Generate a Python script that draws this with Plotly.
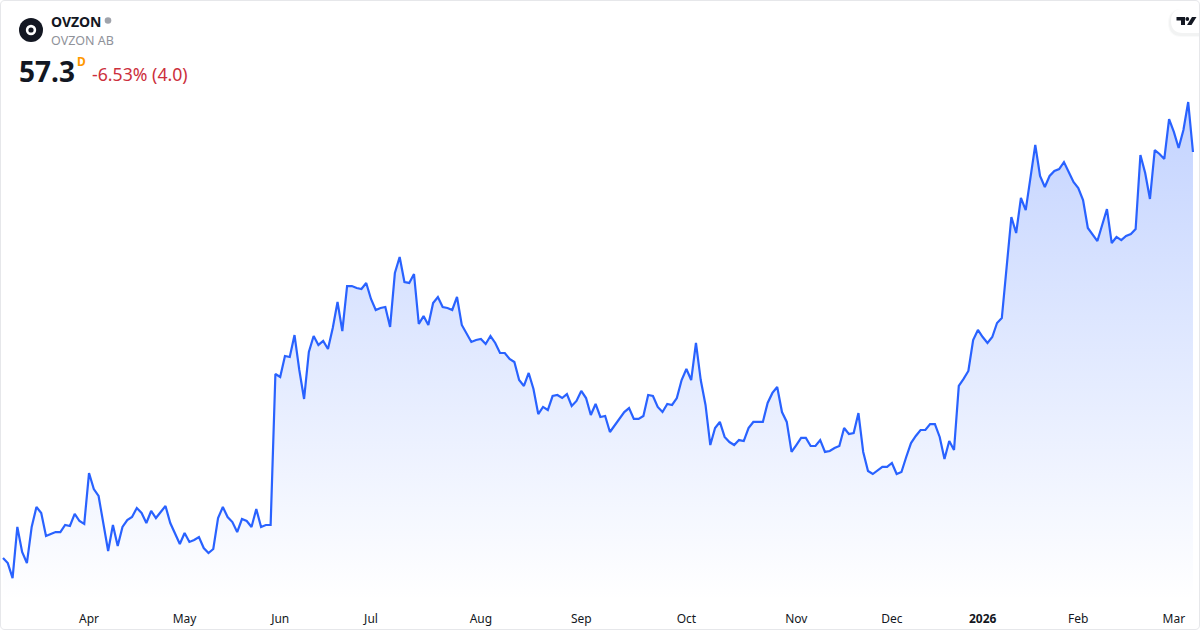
import pandas as pd
import plotly.graph_objects as go

symbol = "OVZON"
company = "OVZON AB"
last_price = "57.3"
interval = "D"
change_text = "-6.53% (4.0)"

market_holidays = ["2025-04-18", "2025-04-21", "2025-05-01", "2025-05-29", "2025-06-06", "2025-06-20",
                   "2025-12-24", "2025-12-25", "2025-12-26", "2025-12-31", "2026-01-01", "2026-01-06"]
dates = [d.strftime("%Y-%m-%d") for d in pd.bdate_range("2025-03-06", "2026-03-06")
         if d.strftime("%Y-%m-%d") not in market_holidays]

close_mar = [24.56, 24.15, 22.94, 27.06, 25.04, 24.15, 27.06, 28.67, 28.19, 26.33, 26.49, 26.65, 26.65,
             27.22, 27.14, 28.11, 27.54, 27.30]
close_apr = [31.41, 30.12, 29.56, 27.38, 25.12, 27.22, 25.53, 27.06, 27.62, 27.86, 28.59, 28.19, 27.38,
             28.35, 27.78, 28.27, 28.75, 27.38, 26.57, 25.69]
close_may = [26.57, 25.85, 26.01, 26.25, 25.36, 24.96, 25.28, 27.78, 28.67, 27.86, 27.46, 26.65, 27.70,
             27.54, 27.06, 28.51, 27.06, 27.22, 27.22, 39.40]
close_jun = [39.16, 40.85, 40.77, 42.54, 39.72, 37.38, 41.17, 42.46, 41.74, 42.06, 41.41, 43.11, 45.20,
             42.86, 46.49, 46.49, 46.33, 46.25, 46.74]
close_jul = [45.45, 44.56, 44.72, 44.80, 43.19, 47.54, 48.83, 46.82, 46.74, 47.46, 43.43, 44.07, 43.35,
             45.12, 45.61, 44.80, 44.72, 44.56, 45.61, 43.35, 42.70, 41.98, 42.14]
close_aug = [42.22, 41.82, 42.46, 41.90, 41.09, 41.09, 40.61, 40.36, 38.91, 38.43, 39.48, 38.19, 36.17,
             36.74, 36.49, 37.62, 37.70, 37.46, 37.78, 36.82, 37.22]
close_sep = [38.03, 37.46, 36.09, 36.98, 35.93, 36.01, 34.72, 35.28, 35.77, 36.33, 36.65, 35.77, 35.77,
             36.01, 37.70, 37.62, 36.74, 36.33, 36.98, 36.90, 37.46, 38.91]
close_oct = [39.80, 38.91, 41.90, 38.91, 36.90, 33.67, 35.04, 35.53, 34.32, 33.91, 33.67, 34.07, 33.99,
             35.04, 35.53, 35.53, 35.53, 37.06, 37.87, 38.35, 36.33, 35.53, 33.11]
close_nov = [33.67, 34.24, 34.24, 33.59, 33.59, 34.07, 33.11, 33.19, 33.43, 33.59, 35.04, 34.56, 34.64,
             36.25, 33.11, 31.57, 31.33, 31.65, 31.90, 31.90]
close_dec = [32.22, 31.33, 31.49, 32.70, 33.83, 34.40, 34.88, 34.88, 35.36, 35.36, 34.32, 32.54, 33.99,
             33.27, 38.43, 39.00, 39.64, 42.14, 42.95]
close_jan = [42.38, 41.90, 42.38, 43.51, 43.91, 47.95, 52.06, 50.77, 53.59, 52.62, 55.29, 57.87, 55.37,
             54.48, 55.37, 55.77, 55.93, 56.49, 55.69, 54.88]
close_feb = [54.40, 53.43, 51.17, 50.69, 50.12, 51.41, 52.70, 49.96, 50.45, 50.20, 50.53, 50.69, 51.09,
             57.06, 55.61, 53.51, 57.46, 57.14, 56.74, 59.96]
close_mar26 = [58.92, 57.62, 59.08, 61.33, 57.30]
closes = (close_mar + close_apr + close_may + close_jun + close_jul + close_aug + close_sep + close_oct
          + close_nov + close_dec + close_jan + close_feb + close_mar26)

tick_dates = ["2025-04-01", "2025-05-02", "2025-06-02", "2025-07-01", "2025-08-01", "2025-09-01",
              "2025-10-01", "2025-11-03", "2025-12-01", "2026-01-02", "2026-02-02", "2026-03-02"]
tick_labels = ["Apr", "May", "Jun", "Jul", "Aug", "Sep", "Oct", "Nov", "Dec", "<b>2026</b>", "Feb", "Mar"]

W, H, PLOT_H = 1200, 630, 600
FONT = "Noto Sans"
INK = "#131722"


def px(x):
    return x / W


def py(y):
    return 1 - y / PLOT_H


fig = go.Figure(go.Scatter(
    x=dates, y=closes, mode="lines", line=dict(color="#2962FF", width=2.2), fill="tozeroy",
    fillgradient=dict(type="vertical", start=21.17, stop=61.33,
                      colorscale=[[0, "rgba(41,98,255,0)"], [1, "rgba(41,98,255,0.28)"]]),
    hoverinfo="skip", showlegend=False))


def circle(cx, cy, r, color):
    return dict(type="circle", xref="paper", yref="paper", x0=px(cx - r), x1=px(cx + r),
                y0=py(cy + r), y1=py(cy - r), fillcolor=color, line=dict(width=0), layer="above")


def path(points, color=None, line=None):
    d = "M " + " L ".join(f"{px(a):.5f},{py(b):.5f}" for a, b in points) + " Z"
    return dict(type="path", xref="paper", yref="paper", path=d, fillcolor=color,
                line=line or dict(width=0), layer="above")


def pill(x0, y0, r, color):
    d = (f"M {px(1200):.5f},{py(y0):.5f} L {px(x0 + r):.5f},{py(y0):.5f} "
         f"Q {px(x0):.5f},{py(y0):.5f} {px(x0):.5f},{py(y0 + r):.5f} "
         f"Q {px(x0):.5f},{py(y0 + 2 * r):.5f} {px(x0 + r):.5f},{py(y0 + 2 * r):.5f} "
         f"L {px(1200):.5f},{py(y0 + 2 * r):.5f} Z")
    return dict(type="path", xref="paper", yref="paper", path=d, fillcolor=color, line=dict(width=0), layer="above")


R = 5
border = (f"M {px(R):.5f},{py(0.5):.5f} L {px(W - R):.5f},{py(0.5):.5f} "
          f"Q {px(W - 0.5):.5f},{py(0.5):.5f} {px(W - 0.5):.5f},{py(R):.5f} "
          f"L {px(W - 0.5):.5f},{py(H - R):.5f} Q {px(W - 0.5):.5f},{py(H - 0.5):.5f} {px(W - R):.5f},{py(H - 0.5):.5f} "
          f"L {px(R):.5f},{py(H - 0.5):.5f} Q {px(0.5):.5f},{py(H - 0.5):.5f} {px(0.5):.5f},{py(H - R):.5f} "
          f"L {px(0.5):.5f},{py(R):.5f} Q {px(0.5):.5f},{py(0.5):.5f} {px(R):.5f},{py(0.5):.5f} Z")

shapes = [
    pill(1168, 9, 14, "rgba(19,23,34,0.025)"),
    pill(1169, 10, 13, "rgba(19,23,34,0.03)"),
    pill(1171, 9, 12, "#ffffff"),
    # trademark glyph
    path([(1176.5, 17), (1185, 17), (1185, 25), (1181, 25), (1181, 20.5), (1176.5, 20.5)], INK),
    circle(1187.3, 19, 1.9, INK),
    path([(1192, 17), (1196.5, 17), (1191.5, 25), (1187, 25)], INK),
    # symbol logo
    circle(31, 30, 12, INK),
    circle(31, 30, 5.2, "#ffffff"),
    circle(31, 30, 2.6, INK),
    circle(108, 20.5, 3.3, "#a0a3ab"),
    dict(type="path", xref="paper", yref="paper", path=border, line=dict(color="#e6e7ea", width=1), layer="above"),
]


def label(x, y, text, size, color, weight="normal"):
    return dict(xref="paper", yref="paper", x=px(x), y=py(y), text=text, showarrow=False,
                xanchor="left", yanchor="middle", align="left",
                font=dict(family=FONT, size=size, color=color, weight=weight))


annotations = [
    label(48.5, 21, symbol, 14, INK, "bold"),
    label(48.5, 40.5, company, 12.5, "#8f929a"),
    label(16.5, 71, last_price, 28, INK, "bold"),
    label(75, 61.5, interval, 12, "#ff9800", "bold"),
    label(89.5, 74.5, change_text, 17.7, "#cc2f3c"),
]

fig.update_layout(
    width=W, height=H, margin=dict(l=0, r=0, t=0, b=H - PLOT_H, pad=0),
    paper_bgcolor="#ffffff", plot_bgcolor="#ffffff", font=dict(family=FONT, color=INK, size=12),
    shapes=shapes, annotations=annotations, showlegend=False,
    xaxis=dict(type="category", range=[-0.628, 250.47], tickmode="array", tickvals=tick_dates,
               ticktext=tick_labels, tickangle=0, showgrid=False, zeroline=False, showline=False,
               ticks="outside", ticklen=8, tickcolor="rgba(0,0,0,0)", tickfont=dict(family=FONT, size=12, color=INK)),
    yaxis=dict(range=[21.17, 69.56], showgrid=False, zeroline=False, showline=False, showticklabels=False,
               ticks=""),
)

fig.write_html("out.html", config=dict(displayModeBar=False),
               post_script="document.body.style.margin='0';document.documentElement.style.overflow='hidden';")
